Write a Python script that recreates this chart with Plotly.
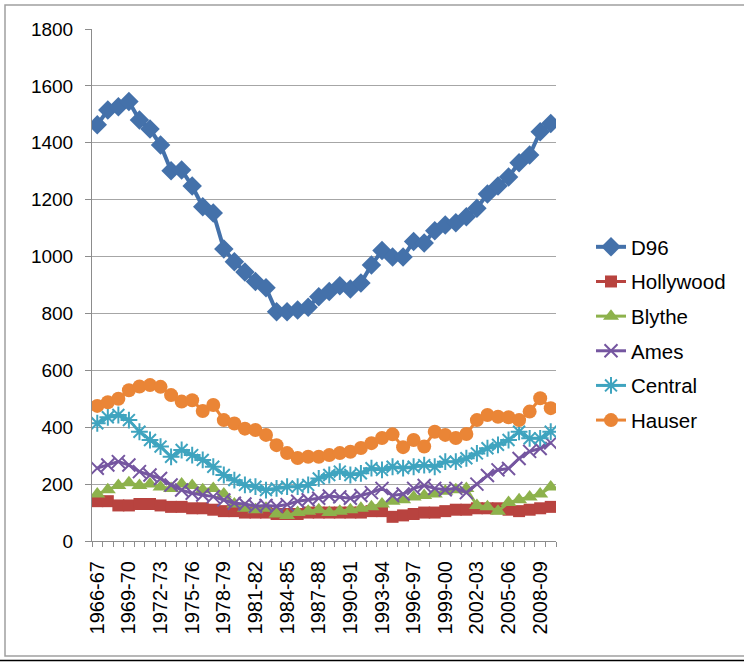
import plotly.graph_objects as go

years = [f"{y}-{str(y + 1)[-2:]}" for y in range(1966, 2010)]

d96 = [1463, 1515, 1527, 1545, 1480, 1448, 1392, 1302, 1304, 1248, 1175, 1153,
       1027, 982, 946, 912, 890, 806, 806, 812, 822, 859, 877, 897, 886, 907,
       970, 1021, 998, 998, 1053, 1048, 1091, 1111, 1119, 1140, 1170, 1220,
       1248, 1280, 1330, 1357, 1439, 1468]
hollywood = [140, 140, 125, 125, 130, 130, 125, 120, 120, 115, 115, 110, 105, 105,
             100, 100, 100, 95, 95, 95, 100, 100, 100, 100, 100, 100, 105, 105,
             85, 90, 95, 100, 100, 105, 110, 110, 115, 115, 115, 110, 105, 110,
             115, 120]
blythe = [165, 180, 195, 205, 195, 200, 190, 185, 200, 195, 180, 185, 165, 130,
          115, 110, 115, 95, 90, 100, 105, 110, 100, 105, 110, 115, 120, 130,
          140, 145, 155, 160, 165, 175, 180, 185, 125, 120, 105, 135, 145, 155,
          165, 190]
ames = [256, 267, 279, 267, 244, 232, 220, 197, 179, 168, 162, 156, 144, 133,
        130, 122, 125, 122, 128, 140, 145, 150, 158, 155, 150, 160, 170, 185,
        160, 165, 185, 195, 185, 180, 185, 170, 200, 230, 250, 255, 290, 315,
        325, 345]
central = [414, 435, 443, 425, 384, 355, 332, 296, 320, 302, 285, 261, 232, 214,
           197, 191, 179, 185, 191, 191, 197, 220, 232, 244, 232, 238, 256, 250,
           261, 256, 261, 267, 261, 279, 279, 291, 308, 326, 338, 355, 384, 361,
           361, 384]
hauser = [475, 488, 500, 530, 543, 548, 542, 513, 490, 495, 457, 478, 425, 413,
          395, 390, 373, 337, 309, 292, 296, 296, 302, 309, 314, 327, 344, 362,
          375, 330, 355, 332, 384, 373, 362, 376, 425, 443, 437, 435, 425, 455,
          502, 467]

series = [
    ("D96", d96, "#4471AA", "diamond", 15, 4),
    ("Hollywood", hollywood, "#B8433F", "square", 12, 3),
    ("Blythe", blythe, "#8DB24C", "triangle-up", 14, 3),
    ("Ames", ames, "#7556A0", "x-thin-open", 13, 3),
    ("Central", central, "#3FA4BF", "asterisk-open", 14, 3),
    ("Hauser", hauser, "#EA8536", "circle", 14, 3),
]

ytick_vals = list(range(0, 1801, 200))
xtick_text = [y if i % 3 == 0 else "" for i, y in enumerate(years)]

fig = go.Figure()
for name, vals, color, sym, size, lw in series:
    marker = dict(symbol=sym, size=size, color=color)
    if sym.endswith("-open"):
        marker["line"] = dict(color=color, width=2)
    fig.add_trace(go.Scatter(
        x=years, y=vals, name=name, mode="lines+markers",
        line=dict(color=color, width=lw), marker=marker,
        legendgroup=name,
    ))

L, T, W, H = 92, 29, 464, 512


def px(x):
    return (x - L) / W


def py(y):
    return (T + H - y) / H


font = "Liberation Sans, Arial, sans-serif"
fig.update_layout(
    width=744, height=662,
    margin=dict(l=L, r=744 - L - W, t=T, b=662 - T - H),
    paper_bgcolor="white", plot_bgcolor="white",
    font=dict(family=font, size=19, color="black"),
    showlegend=True,
    legend=dict(x=px(591), y=py(227), xanchor="left", yanchor="top",
                font=dict(size=20.5), tracegroupgap=5, bgcolor="rgba(0,0,0,0)"),
    xaxis=dict(
        type="category", tickmode="array", tickvals=years, ticktext=xtick_text,
        tickangle=-90, tickson="boundaries", ticks="outside", ticklen=5,
        tickcolor="#8c8c8c", showline=True, linecolor="#8c8c8c", linewidth=1,
        showgrid=False, zeroline=False, tickfont=dict(size=20),
        range=[-0.5, len(years) - 0.5], ticklabelstandoff=11,
    ),
    yaxis=dict(
        range=[0, 1800], tickmode="array", tickvals=ytick_vals,
        ticks="outside", ticklen=6, tickcolor="#8c8c8c",
        showline=True, linecolor="#8c8c8c", linewidth=1,
        showgrid=True, gridcolor="#a6a6a6", gridwidth=1, zeroline=False,
        tickfont=dict(size=19), ticklabelstandoff=8,
    ),
    shapes=[
        dict(type="rect", xref="paper", yref="paper", x0=px(5), x1=px(760),
             y0=py(656), y1=py(5), line=dict(color="#a0a0a0", width=1.5),
             layer="below"),
        dict(type="line", xref="paper", yref="paper", x0=px(0), x1=px(744),
             y0=py(660.5), y1=py(660.5), line=dict(color="black", width=1.5)),
    ],
)

fig.write_html("out.html", config={"displayModeBar": False},
               post_script="document.body.style.margin='0';")
